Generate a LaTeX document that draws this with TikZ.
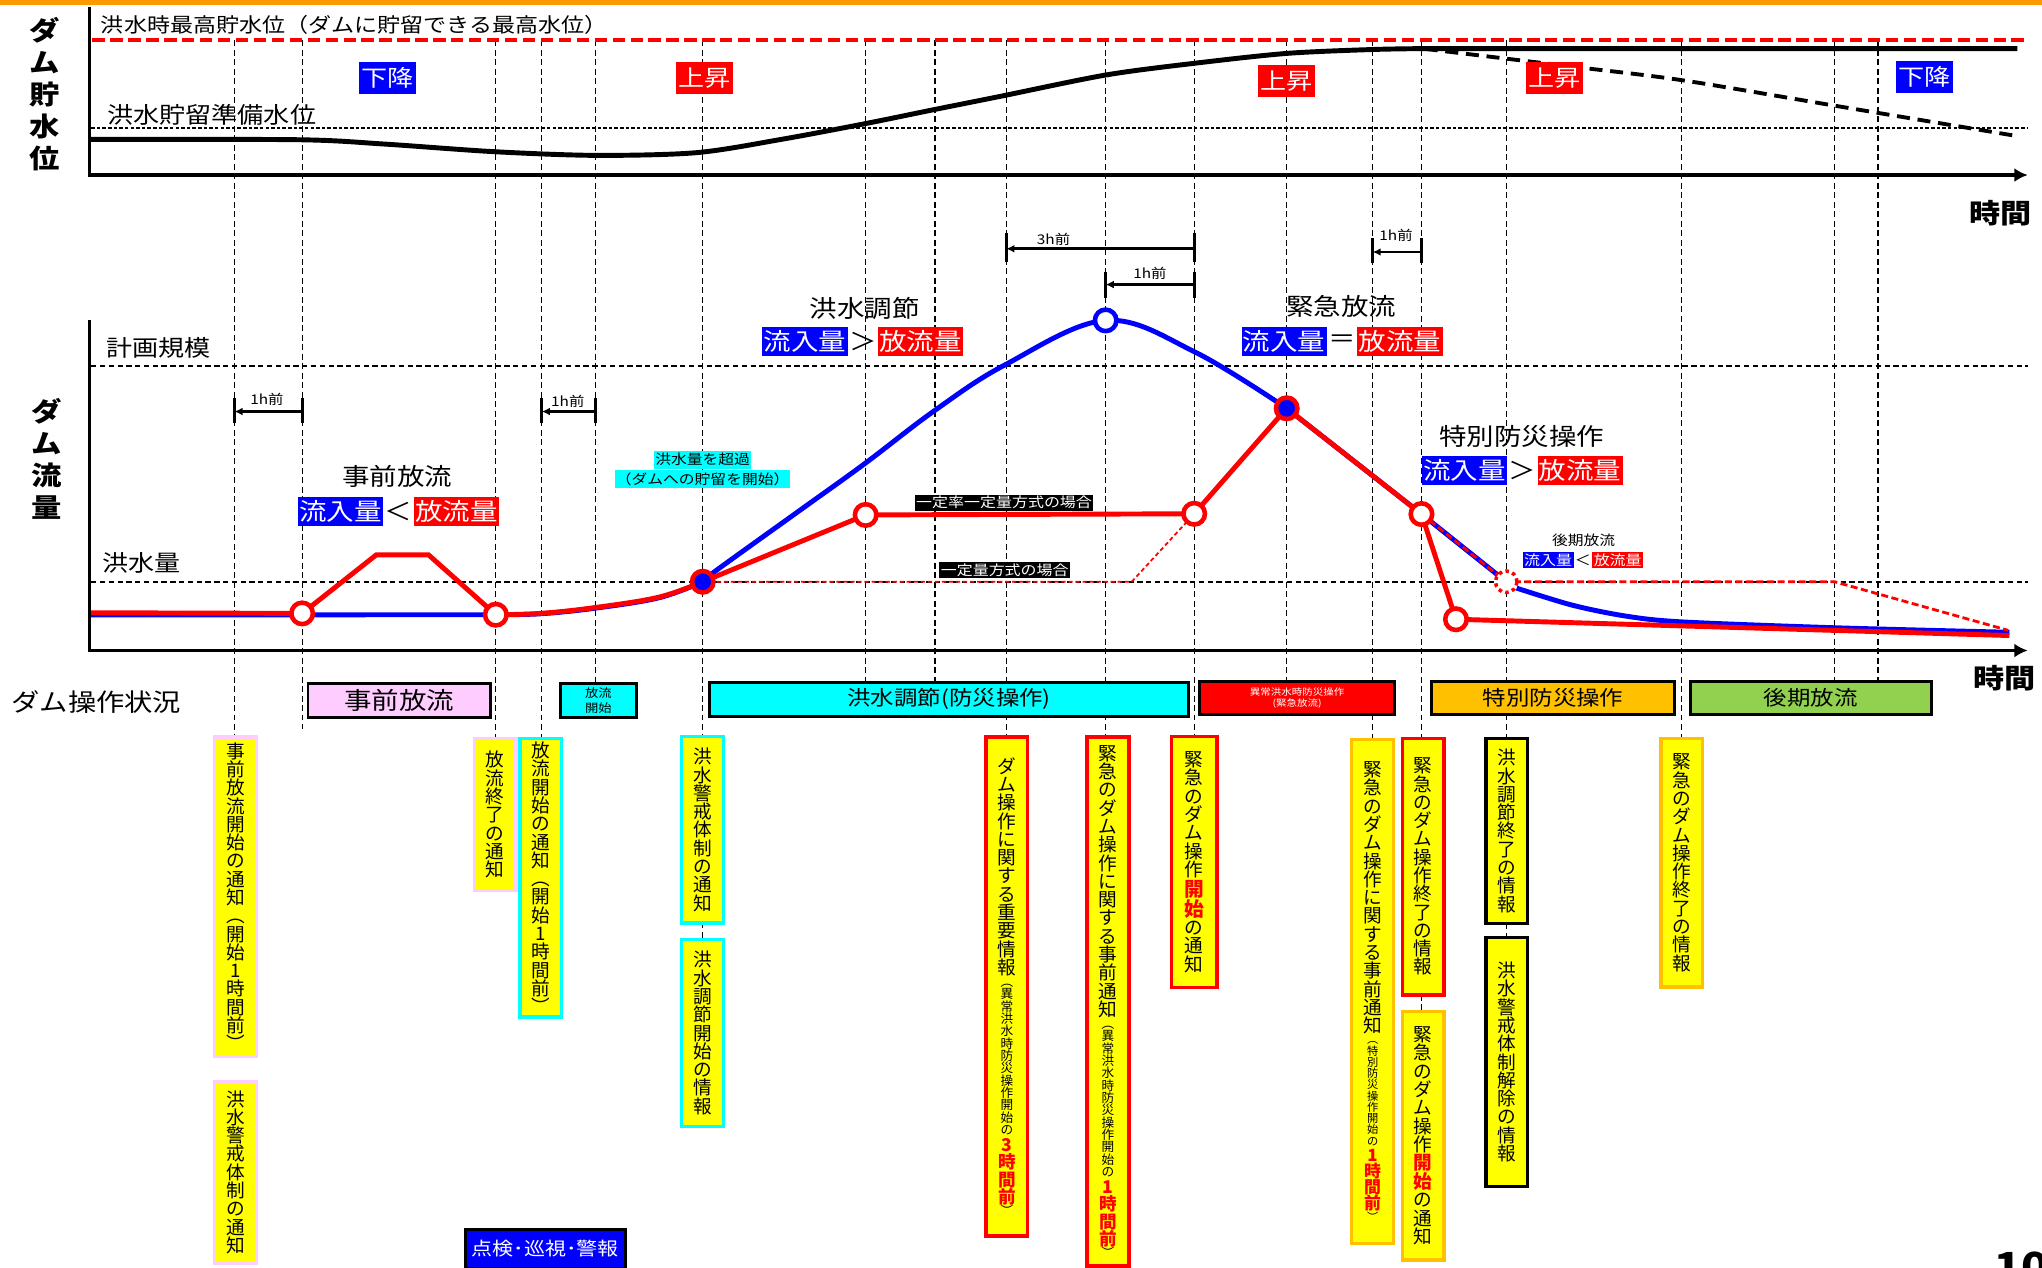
\documentclass[tikz,border=0pt]{standalone}
\usepackage{fontspec}
\setmainfont{Noto Sans CJK JP}[FakeStretch=1.15]
\newfontfamily\vfont{Noto Sans CJK JP}
\usetikzlibrary{arrows.meta,positioning}

\definecolor{topbar}{RGB}{255,153,0}
\definecolor{pinkbox}{RGB}{255,204,255}
\definecolor{orangebox}{RGB}{255,192,0}
\definecolor{greenbox}{RGB}{146,208,80}
\definecolor{aqua}{RGB}{0,255,255}
\definecolor{noteyellow}{RGB}{255,255,0}

\newdimen\px
\px=0.013023cm
\newcommand\fsz[2]{\fontsize{#1}{#2}\selectfont}
\newcommand\vt[1]{\vtloop#1\relax}
\def\vtloop#1{\ifx#1\relax\else\hbox to 0pt{\hss#1\hss}\expandafter\vtloop\fi}
\newcommand\vstack[1]{\vbox{\lineskiplimit=-20pt\lineskip=0pt #1}}

\begin{document}
\begin{tikzpicture}[x=0.013023cm, y=-0.013023cm,
  vline/.style={line width=0.35pt, dash pattern=on 1.7pt off 1pt},
  refline/.style={line width=0.45pt, dash pattern=on 1.5pt off 1pt},
  axis/.style={line width=0.9pt, -{Latex[length=3.8pt,width=4pt]}},
  inflow/.style={blue, line width=1.4pt},
  outflow/.style={red, line width=1.4pt},
  ring/.style={circle, draw=red, fill=white, line width=1.3pt, minimum size=16.5\px, inner sep=0pt},
  lvl/.style={text=white, inner sep=0pt, minimum width=43.6\px, minimum height=24.3\px, font=\fsz{6.45}{7}},
  ttl/.style={inner sep=0pt, font=\fsz{6.8}{7}},
  sgn/.style={inner sep=0pt, font=\fsz{6.8}{7}},
  inq/.style={fill=blue, text=white, inner xsep=0.4pt, inner ysep=1pt, font=\fsz{6.8}{7}},
  outq/.style={inq, fill=red},
  dim/.style={line width=0.75pt, {Latex[length=2.3pt,width=2.2pt]}-},
  tick/.style={line width=0.9pt},
  small/.style={inner sep=0pt, font=\fsz{3.8}{4}},
  opbox/.style={draw, line width=0.85pt, inner sep=0pt, minimum height=26\px},
  note/.style={draw=#1, fill=noteyellow, line width=0.95pt, inner sep=0pt, minimum width=32\px, font=\vfont\fsz{5.3}{5.2}}]
\useasboundingbox (0,0) rectangle (1568,973);
\fill[topbar] (0,0) rectangle (1568,3.5);

\foreach \x/\y in {180/566,232/560,380.7/567,416/567,457.5/525,539.6/566,664.5/524,718/524,772.6/566,849/566,917/566,988/523,1054/567,1091.5/567,1157/567,1291/567,1408.5/523,1442/523}
  \draw[vline] (\x,31) -- (\x,\y);
\draw[vline] (539.6,708) -- (539.6,722);
\draw[vline] (1091.5,764) -- (1091.5,777);
\draw[vline] (1157,709) -- (1157,720);

\begin{scope}
\draw[red, line width=1.1pt, dash pattern=on 3.5pt off 1.6pt] (71,31) -- (1554,31);
\draw[line width=0.5pt, dash pattern=on 1pt off 0.6pt] (70,98.5) -- (1557,98.5);
\node[right, inner sep=0pt, font=\fsz{5.7}{6}] (hwl) at (77,19) {洪水時最高貯水位（ダムに貯留できる最高水位）};
\node[right, inner sep=0pt, font=\fsz{6.45}{7}] (prl) at (82,88) {洪水貯留準備水位};
\draw[line width=1.4pt] plot[smooth, tension=0.5] coordinates {(70,107) (230,107.3) (295,110.6) (380,116.5) (458,119.3) (535,117.2) (600,107) (664,95) (718,84) (768,74) (849,57.6) (917,48.6) (988,41) (1054,38) (1094,37.3)} -- (1549,37.3);
\draw[line width=1.1pt, dash pattern=on 3.7pt off 2.2pt] plot[smooth] coordinates {(1094,37.5) (1206,51) (1291,61.5) (1408,81) (1549,104.5)};
\draw[axis] (68.5,5) -- (68.5,134.4) -- (1557,134.4);
\node[lvl, fill=blue] (d1) at (297.7,60) {下降};
\node[lvl, fill=red] (u1) at (541,60) {上昇};
\node[lvl, fill=red] (u2) at (987.7,62) {上昇};
\node[lvl, fill=red] (u3) at (1193.8,60) {上昇};
\node[lvl, fill=blue] (d2) at (1477.7,59) {下降};
\node[inner sep=0pt, font=\bfseries\fsz{7.5}{9.1}] (lv) at (34.5,72) {\vstack{\vt{ダム貯水位}}};
\node[inner sep=0pt, font=\bfseries\fsz{7.7}{8}] (tm1) at (1536,164) {時間};
\end{scope}

\begin{scope}
\draw[refline] (70,281) -- (1557,281);
\draw[refline] (70,447) -- (1557,447);
\node[right, inner sep=0pt, font=\fsz{6.45}{7}] (kk) at (81,267) {計画規模};
\node[right, inner sep=0pt, font=\fsz{6.45}{7}] (kq) at (78,432.5) {洪水量};
\node[inner sep=0pt, font=\bfseries\fsz{7.5}{9.1}] (fl) at (36,352) {\vstack{\vt{ダム流量}}};
\node[inner sep=0pt, font=\bfseries\fsz{7.7}{8}] (tm2) at (1539,521) {時間};

\coordinate (c1) at (232,471);
\coordinate (c2) at (380.7,472);
\coordinate (c3) at (539.6,446.7);
\coordinate (c4) at (849,246);
\coordinate (c5) at (988,313.5);
\coordinate (c6) at (664.7,395.4);
\coordinate (c7) at (917,394.5);
\coordinate (c8) at (1091.5,394.7);
\coordinate (c9) at (1118,475.5);
\coordinate (c10) at (1156.6,446.7);

\draw[inflow] (68.5,472.2) -- (c2);
\draw[inflow] plot[smooth, tension=0.6] coordinates {(c2) (415,471.3) (457,467) (506,459) (c3)};
\draw[inflow] plot[smooth, tension=0.6] coordinates {(c3) (550,438) (614,392) (664,356) (718,315) (772,280) (c4) (917,270) (c5)};
\draw[inflow] (c5) -- (c8) -- (c10);
\draw[inflow] plot[smooth] coordinates {(1164.6,451.6) (1207,464.6) (1248,473) (1291,477.5) (1408,482) (1543,485.5)};

\draw[outflow] (68.5,470.5) -- (c1) -- (289,426) -- (329,426) -- (c2);
\draw[outflow] plot[smooth, tension=0.6] coordinates {(c2) (415,471) (457,466.5) (506,458.5) (c3)};
\draw[outflow] (c3) -- (c6) -- (c7) -- (c5) -- (c8) -- (c9) -- (1543,488);
\draw[red, line width=0.5pt, dash pattern=on 1.2pt off 0.8pt] (c3) -- (869,446.7) -- (c7);
\draw[red, line width=0.8pt, dash pattern=on 2pt off 1pt] (c8) -- (c10) -- (1408.8,446.7) -- (1542,484);

\node[ring] (r1) at (c1) {};
\node[ring] (r2) at (c2) {};
\node[ring, fill=blue] (r3) at (c3) {};
\node[ring, draw=blue] (r4) at (c4) {};
\node[ring, fill=blue] (r5) at (c5) {};
\node[ring] (r6) at (c6) {};
\node[ring] (r7) at (c7) {};
\node[ring] (r8) at (c8) {};
\node[ring] (r9) at (c9) {};
\node[ring, line width=1pt, dash pattern=on 1pt off 1pt] (r10) at (c10) {};

\foreach \a/\b/\ya/\yb/\ym/\lx/\ly/\t [count=\i] in {180/232/305.5/325/316/205/307/1h前, 416/457.5/305.5/325/316/436/308/1h前, 772.6/917/179/201/191/809/184/3h前, 849/917/209/229/218.5/883/210/1h前, 1054/1091.5/183/202/193.5/1072/180.5/1h前}{
  \draw[tick] (\a,\ya) -- (\a,\yb);
  \draw[tick] (\b,\ya) -- (\b,\yb);
  \draw[dim] (\a,\ym) -- (\b,\ym);
  \node[small] (h\i) at (\lx,\ly) {\t};
}

\node[fill=aqua, inner xsep=0.3pt, inner ysep=0.7pt, font=\fsz{3.9}{4.2}] (ex1) at (539.5,353) {洪水量を超過};
\node[fill=aqua, inner xsep=0.3pt, inner ysep=0.7pt, font=\fsz{3.9}{4.2}] (ex2) at (539.5,368) {（ダムへの貯留を開始）};
\node[fill=black, text=white, inner sep=0.4pt, font=\fsz{3.95}{4.2}] (m1) at (771,386) {一定率一定量方式の場合};
\node[fill=black, text=white, inner sep=0.4pt, font=\fsz{3.95}{4.2}] (m2) at (771.5,437.7) {一定量方式の場合};

\node[ttl] (t1) at (305,366) {事前放流};
\node[sgn] (s1) at (306,392.5) {＜};
\node[inq, left=0pt of s1] (i1) {流入量};
\node[outq, right=0pt of s1] (o1) {放流量};

\node[ttl] (t2) at (664,237) {洪水調節};
\node[sgn] (s2) at (662.5,262) {＞};
\node[inq, left=0pt of s2] (i2) {流入量};
\node[outq, right=0pt of s2] (o2) {放流量};

\node[ttl] (t3) at (1030,235.5) {緊急放流};
\node[sgn] (s3) at (1030.5,262) {＝};
\node[inq, left=0pt of s3] (i3) {流入量};
\node[outq, right=0pt of s3] (o3) {放流量};

\node[ttl] (t4) at (1168.5,335) {特別防災操作};
\node[sgn] (s4) at (1169,361) {＞};
\node[inq, left=0pt of s4] (i4) {流入量};
\node[outq, right=0pt of s4] (o4) {放流量};

\node[small, font=\fsz{3.9}{4.2}] (t5) at (1216,414.6) {後期放流};
\node[sgn, font=\fsz{3.95}{4.2}] (s5) at (1215.5,430) {＜};
\node[inq, inner ysep=0.4pt, font=\fsz{3.95}{4.2}, left=0pt of s5] (i5) {流入量};
\node[outq, inner ysep=0.4pt, font=\fsz{3.95}{4.2}, right=0pt of s5] (o5) {放流量};

\draw[axis] (68.5,246) -- (68.5,499.5) -- (1557,499.5);
\end{scope}

\node[inner sep=0pt, font=\fsz{7}{7.5}] (ops) at (74,539) {ダム操作状況};
\node[opbox, fill=pinkbox, minimum width=140\px, font=\fsz{6.8}{7}] (b1) at (306.5,538) {事前放流};
\node[opbox, fill=aqua, minimum width=58\px, font=\fsz{3.3}{4.4}, align=center] (b2) at (459.5,538) {放流\\開始};
\node[opbox, fill=aqua, minimum width=368\px, font=\fsz{5.8}{6}] (b3) at (728.8,537) {洪水調節(防災操作)};
\node[opbox, fill=red, text=white, minimum width=149.5\px, font=\fsz{2.6}{3.4}, align=center] (b4) at (996,536) {異常洪水時防災操作\\(緊急放流)};
\node[opbox, fill=orangebox, minimum width=187\px, font=\fsz{5.8}{6}] (b5) at (1192.5,536) {特別防災操作};
\node[opbox, fill=greenbox, minimum width=185\px, font=\fsz{5.8}{6}] (b6) at (1390.5,536) {後期放流};

\node[note=pinkbox, minimum height=245\px] (n1) at (180.8,688.5) {\vstack{\vt{事前放流開始の通知︵開始1時間前︶}}};
\node[note=pinkbox, minimum height=139.5\px] (n2) at (180.8,900) {\vstack{\vt{洪水警戒体制の通知}}};
\node[note=pinkbox, minimum height=117\px] (n3) at (380.2,625.5) {\vstack{\vt{放流終了の通知}}};
\node[note=aqua, minimum height=214\px] (n4) at (415.2,674) {\vstack{\vt{放流開始の通知︵開始1時間前︶}}};
\node[note=aqua, minimum height=143\px] (n5) at (539.4,637.2) {\vstack{\vt{洪水警戒体制の通知}}};
\node[note=aqua, minimum height=143.6\px] (n6) at (539.4,793.2) {\vstack{\vt{洪水調節開始の情報}}};
\node[note=red, minimum height=383\px] (n7) at (773.2,757.5) {\vstack{\vt{ダム操作に関する重要情報}{\fsz{3.6}{3.5}\vt{︵異常洪水時防災操作開始の}}{\color{red}\bfseries\fsz{5}{4.9}\vt{3時間前}}{\fsz{3.6}{3.5}\vt{︶}}}};
\node[note=red, minimum height=406\px] (n8) at (850.8,769) {\vstack{\vt{緊急のダム操作に関する事前通知}{\fsz{3.6}{3.5}\vt{︵異常洪水時防災操作開始の}}{\color{red}\bfseries\fsz{5}{4.9}\vt{1時間前}}{\fsz{3.6}{3.5}\vt{︶}}}};
\node[note=red, minimum width=35\px, minimum height=193\px] (n9) at (917,662) {\vstack{\vt{緊急のダム操作}{\color{red}\bfseries\fsz{5.6}{5.7}\vt{開始}}\vt{の通知}}};
\node[note=orangebox, minimum height=387.4\px] (n10) at (1054,761.3) {\vstack{\vt{緊急のダム操作に関する事前通知}{\fsz{3.2}{3.2}\vt{︵特別防災操作開始の}}{\color{red}\bfseries\fsz{4.8}{4.6}\vt{1時間前}}{\fsz{3.2}{3.2}\vt{︶}}}};
\node[note=red, minimum height=197\px] (n11) at (1092.8,665.5) {\vstack{\vt{緊急のダム操作終了の情報}}};
\node[note=orangebox, minimum height=190.8\px] (n12) at (1092.8,872.1) {\vstack{\vt{緊急のダム操作}{\color{red}\bfseries\fsz{5.3}{5.3}\vt{開始}}\vt{の通知}}};
\node[note=black, minimum height=142\px] (n13) at (1157.1,638) {\vstack{\vt{洪水調節終了の情報}}};
\node[note=black, minimum height=191\px] (n14) at (1157.1,815.5) {\vstack{\vt{洪水警戒体制解除の情報}}};
\node[note=orangebox, minimum height=191\px] (n15) at (1291.3,662.5) {\vstack{\vt{緊急のダム操作終了の情報}}};

\node[draw, fill=blue, text=white, line width=0.85pt, inner sep=0pt, minimum width=122.4\px, minimum height=30\px, font=\fsz{5.2}{6}] (pk) at (418.8,959) {点検･巡視･警報};
\node[anchor=north west, inner sep=0pt, font=\bfseries\fsz{11}{12}] (pg) at (1531,961) {10};
\end{tikzpicture}
\end{document}
